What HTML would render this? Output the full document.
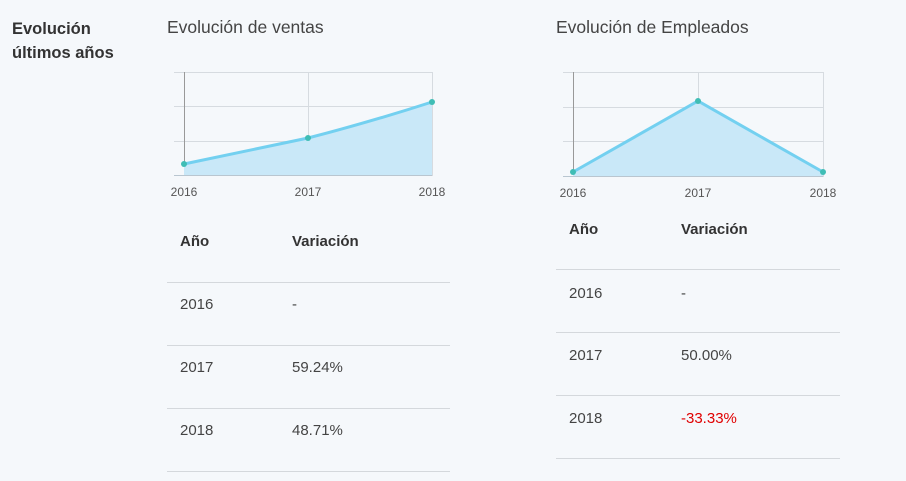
<!DOCTYPE html>
<html><head><meta charset="utf-8"><style>
body{margin:0;width:906px;height:481px;background:#f5f8fb;font-family:"Liberation Sans",sans-serif;position:relative;overflow:hidden;color:#333}
.a{position:absolute;white-space:nowrap}
.t{font-size:17.5px;color:#444}
.h{font-size:15px;font-weight:bold;color:#333}
.r{font-size:15px;color:#444}
.ln{position:absolute;height:1px;background:#d4d8dc}
</style></head><body>
<div class="a" style="left:12px;top:17px;font-size:16.5px;font-weight:bold;line-height:24px;color:#333">Evolución<br>últimos años</div>
<div class="a t" style="left:167px;top:17px">Evolución de ventas</div>
<div class="a t" style="left:556px;top:17px">Evolución de Empleados</div>
<svg class="a" style="left:0;top:0" width="906" height="210">
<g stroke="#d6dbe0" stroke-width="1">
<line x1="174" y1="72.5" x2="432" y2="72.5"/><line x1="174" y1="106.5" x2="432" y2="106.5"/><line x1="174" y1="141.5" x2="432" y2="141.5"/>
<line x1="308.5" y1="72" x2="308.5" y2="176"/><line x1="432.5" y1="72" x2="432.5" y2="176"/>
<line x1="563" y1="72.5" x2="823" y2="72.5"/><line x1="563" y1="107.5" x2="823" y2="107.5"/><line x1="563" y1="141.5" x2="823" y2="141.5"/>
<line x1="698.5" y1="72" x2="698.5" y2="177"/><line x1="823.5" y1="72" x2="823.5" y2="177"/>
</g>
<line x1="184.5" y1="72" x2="184.5" y2="176" stroke="#999"/>
<line x1="573.5" y1="72" x2="573.5" y2="177" stroke="#999"/>
<path d="M184 164 Q250 150 308 138 Q370 122 432 102 L432 175.5 L184 175.5Z" fill="#c9e8f8"/>
<line x1="174" y1="175.5" x2="432" y2="175.5" stroke="#b9c6d0"/>
<path d="M184 164 Q250 150 308 138 Q370 122 432 102" fill="none" stroke="#73d0f0" stroke-width="3"/>
<g fill="#3fbdb5"><circle cx="184" cy="164" r="3"/><circle cx="308" cy="138" r="3"/><circle cx="432" cy="102" r="3"/></g>
<path d="M573 172 L698 101 L823 172 L823 176.5 L573 176.5Z" fill="#c9e8f8"/>
<line x1="563" y1="176.5" x2="823" y2="176.5" stroke="#b9c6d0"/>
<path d="M573 172 L698 101 L823 172" fill="none" stroke="#73d0f0" stroke-width="3"/>
<g fill="#3fbdb5"><circle cx="573" cy="172" r="3"/><circle cx="698" cy="101" r="3"/><circle cx="823" cy="172" r="3"/></g>
<g font-size="12" fill="#555" font-family="Liberation Sans" text-anchor="middle">
<text x="184" y="196">2016</text><text x="308" y="196">2017</text><text x="432" y="196">2018</text>
<text x="573" y="197">2016</text><text x="698" y="197">2017</text><text x="823" y="197">2018</text>
</g></svg>

<div class="a h" style="left:180px;top:233px">Año</div><div class="a h" style="left:292px;top:233px">Variación</div>
<div class="ln" style="left:167px;width:283px;top:282px"></div>
<div class="a r" style="left:180px;top:296px">2016</div><div class="a r" style="left:292px;top:296px">-</div>
<div class="ln" style="left:167px;width:283px;top:345px"></div>
<div class="a r" style="left:180px;top:359px">2017</div><div class="a r" style="left:292px;top:359px">59.24%</div>
<div class="ln" style="left:167px;width:283px;top:408px"></div>
<div class="a r" style="left:180px;top:422px">2018</div><div class="a r" style="left:292px;top:422px">48.71%</div>
<div class="ln" style="left:167px;width:283px;top:471px"></div>

<div class="a h" style="left:569px;top:221px">Año</div><div class="a h" style="left:681px;top:221px">Variación</div>
<div class="ln" style="left:556px;width:284px;top:269px"></div>
<div class="a r" style="left:569px;top:285px">2016</div><div class="a r" style="left:681px;top:285px">-</div>
<div class="ln" style="left:556px;width:284px;top:332px"></div>
<div class="a r" style="left:569px;top:347px">2017</div><div class="a r" style="left:681px;top:347px">50.00%</div>
<div class="ln" style="left:556px;width:284px;top:395px"></div>
<div class="a r" style="left:569px;top:410px">2018</div><div class="a r" style="left:681px;top:410px;color:#e00000">-33.33%</div>
<div class="ln" style="left:556px;width:284px;top:458px"></div>
</body></html>
